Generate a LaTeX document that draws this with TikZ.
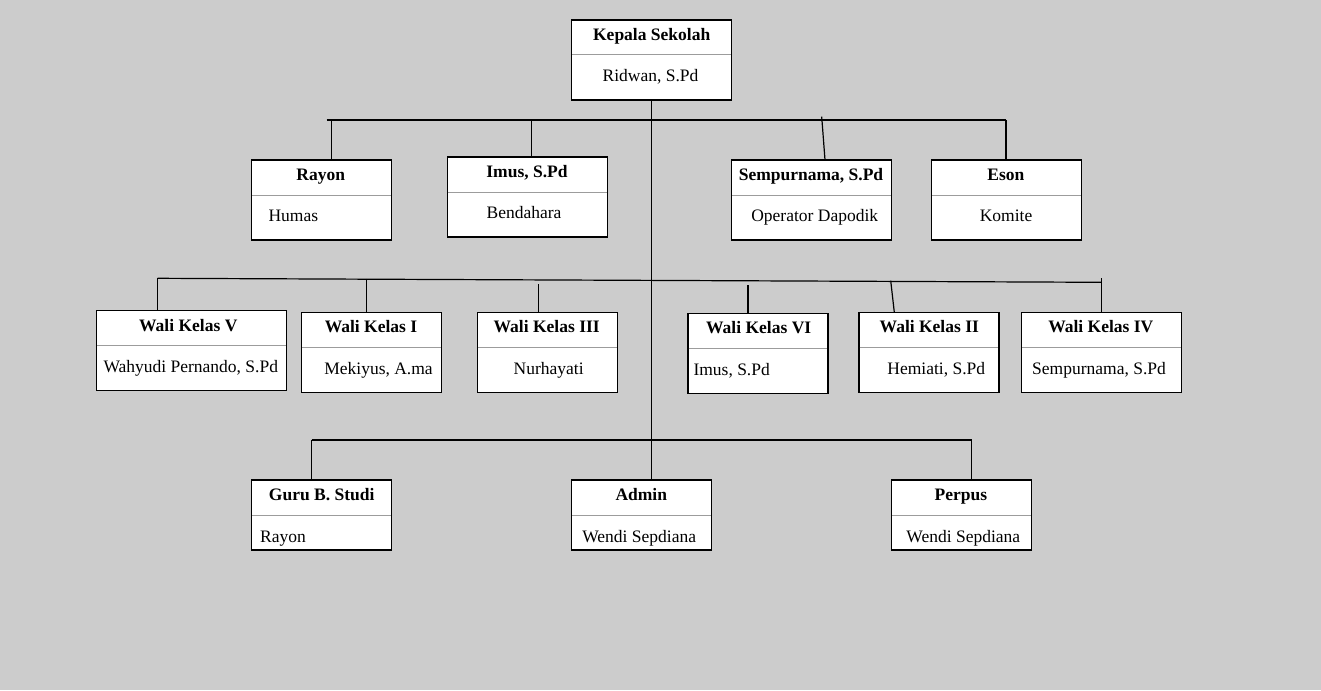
\documentclass[tikz,border=0pt]{standalone}
\usepackage{fontspec}
\setmainfont{Liberation Serif}
\newcommand\orgHd{\fontsize{17.5}{21}\selectfont\bfseries}
\newcommand\orgTx{\fontsize{17.5}{21}\selectfont}
\definecolor{bgcol}{HTML}{CCCCCC}
\definecolor{divgray}{HTML}{9C9C9C}
\tikzset{
  box/.style={draw=black, fill=white, line width=1.3pt, inner sep=0pt, outer sep=0pt},
  divline/.style={draw=divgray, line width=1pt, shorten <=0.65pt, shorten >=0.65pt},
  link/.style={draw=black, line width=1.2pt},
  hd/.style={font=\orgHd, inner sep=0pt, anchor=base},
  tx/.style={font=\orgTx, inner sep=0pt, anchor=base},
  txl/.style={font=\orgTx, inner sep=0pt, anchor=base west},
}
\begin{document}
\begin{tikzpicture}[x=1pt,y=-1pt]
\useasboundingbox (0,0) rectangle (1321,690);
\fill[bgcol] (0,0) rectangle (1321,690);

% ---------- connectors ----------
\coordinate (b1L) at (326.7,120);
\coordinate (b1R) at (1006,120);
\coordinate (r1) at (331.7,120);
\coordinate (i1) at (531.7,120);
\coordinate (s1) at (821.7,116.7);
\coordinate (s2) at (825,160);
\coordinate (b2L) at (157.7,278.3);
\coordinate (b2R) at (1101.7,282.3);
\coordinate (w1) at (366.7,278.8);
\coordinate (w3) at (538.3,284);
\coordinate (w6) at (748,285);
\coordinate (w2a) at (890.7,280.7);
\coordinate (w2b) at (894.3,312.3);
\coordinate (w4) at (1101.7,278);
\coordinate (b3L) at (311.7,440);
\coordinate (b3R) at (971.7,440);

% ---------- boxes ----------
\node[box, minimum width=160pt, minimum height=80pt] (kepala) at (651.7,60) {};
\node[box, minimum width=140pt, minimum height=80pt] (rayon) at (321.7,200) {};
\node[box, minimum width=160pt, minimum height=80pt] (imus) at (527.3,197) {};
\node[box, minimum width=160pt, minimum height=80pt] (semp) at (811.7,200) {};
\node[box, minimum width=150pt, minimum height=80pt] (eson) at (1006.7,200) {};
\node[box, minimum width=190pt, minimum height=80pt] (waliV) at (191.5,350.5) {};
\node[box, minimum width=140pt, minimum height=80pt] (waliI) at (371.7,352.3) {};
\node[box, minimum width=140pt, minimum height=80pt] (waliIII) at (547.3,352.3) {};
\node[box, minimum width=140pt, minimum height=80pt] (waliVI) at (758,353.5) {};
\node[box, minimum width=140pt, minimum height=80pt] (waliII) at (929,352.3) {};
\node[box, minimum width=160pt, minimum height=80pt] (waliIV) at (1101.7,352.3) {};
\node[box, minimum width=140pt, minimum height=70pt] (guru) at (321.7,515) {};
\node[box, minimum width=140pt, minimum height=70pt] (admin) at (641.7,515) {};
\node[box, minimum width=140pt, minimum height=70pt] (perpus) at (961.7,515) {};

% dividers
\foreach \b in {kepala,rayon,imus,semp,eson,waliV,waliI,waliIII,waliVI,waliII,waliIV,guru,admin,perpus}
  \draw[divline] ([yshift=-35pt]\b.north west) -- ([yshift=-35pt]\b.north east);

% ---------- lines ----------
\draw[link] (kepala.south) -- (kepala.south |- admin.north);
\draw[link] (b1L) -- (b1R);
\draw[link] (r1) -- (r1 |- rayon.north);
\draw[link] (i1) -- (i1 |- imus.north);
\draw[link] (s1) -- (s2);
\draw[link] (b1R) -- (b1R |- eson.north);

\draw[link] (b2L) -- (b2R);
\draw[link] (b2L) -- (b2L |- waliV.north);
\draw[link] (w1) -- (w1 |- waliI.north);
\draw[link] (w3) -- (w3 |- waliIII.north);
\draw[link] (w6) -- (w6 |- waliVI.north);
\draw[link] (w2a) -- (w2b);
\draw[link] (w4) -- (w4 |- waliIV.north);

\draw[link] (b3L) -- (b3R);
\draw[link] (b3L) -- (b3L |- guru.north);
\draw[link] (b3R) -- (b3R |- perpus.north);

% ---------- texts ----------
\node[hd] (kepalaH) at (651.7,40.5) {Kepala Sekolah};
\node[tx] (kepalaT) at (650.5,82) {Ridwan, S.Pd};

\node[hd] (rayonH) at (320.8,180.5) {Rayon};
\node[txl] (rayonT) at (268.3,221.5) {Humas};

\node[hd] (imusH) at (527,177.5) {Imus, S.Pd};
\node[tx] (imusT) at (524,218.5) {Bendahara};

\node[hd] (sempH) at (811,180.5) {Sempurnama, S.Pd};
\node[tx] (sempT) at (814.7,221.5) {Operator Dapodik};

\node[hd] (esonH) at (1005.8,180.5) {Eson};
\node[tx] (esonT) at (1006,221.5) {Komite};

\node[hd] (waliVH) at (188.3,331) {Wali Kelas V};
\node[tx] (waliVT) at (190.8,372.5) {Wahyudi Pernando, S.Pd};

\node[hd] (waliIH) at (371,332.8) {Wali Kelas I};
\node[tx] (waliIT) at (378.5,374.3) {Mekiyus, A.ma};

\node[hd] (waliIIIH) at (546.7,332.8) {Wali Kelas III};
\node[tx] (waliIIIT) at (548.7,374.3) {Nurhayati};

\node[hd] (waliVIH) at (758.7,333.5) {Wali Kelas VI};
\node[txl] (waliVIT) at (693.3,375) {Imus, S.Pd};

\node[hd] (waliIIH) at (929.3,332.8) {Wali Kelas II};
\node[tx] (waliIIT) at (936.3,374.3) {Hemiati, S.Pd};

\node[hd] (waliIVH) at (1100.8,332.8) {Wali Kelas IV};
\node[tx] (waliIVT) at (1099,374.3) {Sempurnama, S.Pd};

\node[hd] (guruH) at (321.7,500.5) {Guru B. Studi};
\node[txl] (guruT) at (260,542) {Rayon};

\node[hd] (adminH) at (641.3,500.5) {Admin};
\node[tx] (adminT) at (639.2,542) {Wendi Sepdiana};

\node[hd] (perpusH) at (960.8,500.5) {Perpus};
\node[tx] (perpusT) at (963.3,542) {Wendi Sepdiana};
\end{tikzpicture}
\end{document}
